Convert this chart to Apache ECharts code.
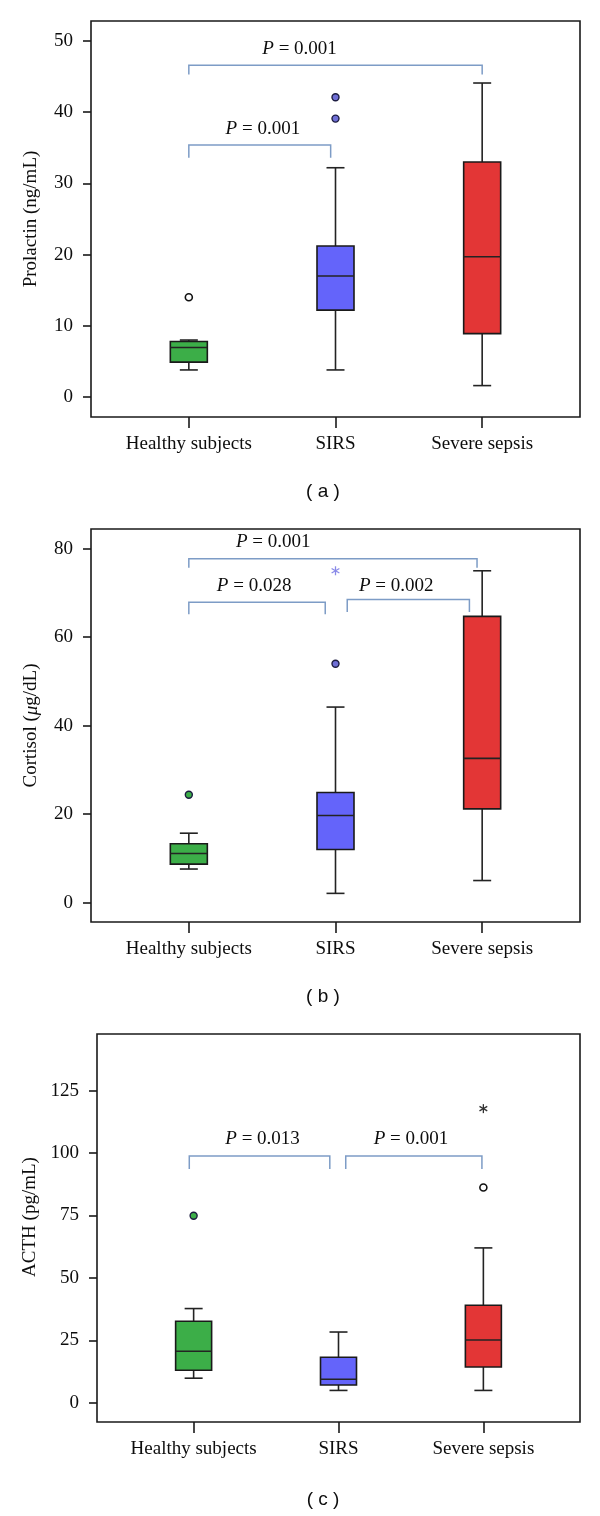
<!DOCTYPE html>
<html>
<head>
<meta charset="utf-8">
<title>Prolactin, cortisol and ACTH by group</title>
<script src="https://cdn.jsdelivr.net/npm/echarts@6.0.0/dist/echarts.min.js"></script>
<style>
html, body { margin: 0; padding: 0; background: #fff; }
#chart { width: 600px; height: 1516px; }
</style>
</head>
<body>
<div id="chart"></div>
<script>
var categories = ['Healthy subjects', 'SIRS', 'Severe sepsis'];

// (a) Prolactin, ng/mL. Boxes: [group, min, Q1, median, Q3, max]
var prolactinBoxes = [
    [0, 3.8, 4.9, 6.95, 7.8, 8.0],
    [1, 3.8, 12.2, 17.0, 21.2, 32.2],
    [2, 1.6, 8.9, 19.7, 33.0, 44.1]
];
var prolactinOutliers = [[1, 42.1], [1, 39.1]];
var prolactinOpenOutliers = [[0, 14.0]];
var prolactinExtremes = [];
var prolactinTicks = [0, 10, 20, 30, 40, 50];
// brackets: [from, to, bar level, foot level]
var prolactinBrackets = [[0, 2, 46.6, 45.3], [0, 0.967, 35.4, 33.6]];
var prolactinP = [[0.755, 48.9, '0.001'], [0.505, 37.6, '0.001']];

// (b) Cortisol, ug/dL
var cortisolBoxes = [
    [0, 7.6, 8.7, 11.1, 13.3, 15.7],
    [1, 2.1, 12.0, 19.7, 24.9, 44.2],
    [2, 5.0, 21.2, 32.6, 64.7, 75.0]
];
var cortisolOutliers = [[0, 24.4], [1, 54.0]];
var cortisolOpenOutliers = [];
var cortisolExtremes = [[1, 75.0]];
var cortisolTicks = [0, 20, 40, 60, 80];
var cortisolBrackets = [[0, 1.965, 77.7, 75.7], [0, 0.93, 67.9, 65.2], [1.08, 1.913, 68.5, 65.7]];
var cortisolP = [[0.575, 81.4, '0.001'], [0.445, 71.6, '0.028'], [1.414, 71.6, '0.002']];

// (c) ACTH, pg/mL
var acthBoxes = [
    [0, 9.8, 13.0, 20.6, 32.6, 37.7],
    [1, 4.9, 7.1, 9.4, 18.2, 28.3],
    [2, 4.9, 14.3, 25.1, 39.0, 62.0]
];
var acthOutliers = [[0, 74.9]];
var acthOpenOutliers = [[2, 86.2]];
var acthExtremes = [[2, 117.8]];
var acthTicks = [0, 25, 50, 75, 100, 125];
var acthBrackets = [[-0.03, 0.94, 98.8, 93.6], [1.05, 1.99, 98.8, 93.6]];
var acthP = [[0.476, 105.6, '0.013'], [1.5, 105.6, '0.001']];

var groupColors = ['#3cae48', '#6464fa', '#e33636'];
var outlierColors = ['#3cae48', '#6f6fd6', '#e33636'];
var serif = 'Liberation Serif';
var ink = '#0d0d0d';

var panels = [
    {
        grid: {left: 91, top: 21, width: 489, height: 396},
        yMin: -2.81, yMax: 52.81, ticks: prolactinTicks,
        name: 'Prolactin (ng/mL)', nameGap: 50, namePad: 0, boxWidth: 37,
        boxes: prolactinBoxes, outliers: prolactinOutliers, open: prolactinOpenOutliers,
        extremes: prolactinExtremes, extremeColor: '#333',
        brackets: prolactinBrackets, pLabels: prolactinP,
        caption: '( a )', captionY: 492
    },
    {
        grid: {left: 91, top: 529, width: 489, height: 393},
        yMin: -4.37, yMax: 84.44, ticks: cortisolTicks,
        name: 'Cortisol ({i|\u03bc}g/dL)', nameGap: 50, namePad: 0, boxWidth: 37,
        boxes: cortisolBoxes, outliers: cortisolOutliers, open: cortisolOpenOutliers,
        extremes: cortisolExtremes, extremeColor: '#8a8ae8',
        brackets: cortisolBrackets, pLabels: cortisolP,
        caption: '( b )', captionY: 997
    },
    {
        grid: {left: 97, top: 1034, width: 483, height: 388},
        yMin: -7.75, yMax: 147.7, ticks: acthTicks,
        name: 'ACTH (pg/mL)', nameGap: 56, namePad: 22, boxWidth: 36,
        boxes: acthBoxes, outliers: acthOutliers, open: acthOpenOutliers,
        extremes: acthExtremes, extremeColor: '#333',
        brackets: acthBrackets, pLabels: acthP,
        caption: '( c )', captionY: 1500
    }
];

function boxRenderer(boxWidth) {
    return function (params, api) {
        var g = api.value(0);
        var lo = api.coord([g, api.value(1)]);
        var q1 = api.coord([g, api.value(2)]);
        var md = api.coord([g, api.value(3)]);
        var q3 = api.coord([g, api.value(4)]);
        var hi = api.coord([g, api.value(5)]);
        var cx = lo[0];
        var half = boxWidth / 2, cap = 9;
        var ln = {stroke: '#232323', lineWidth: 1.6};
        return {
            type: 'group',
            children: [
                {type: 'line', shape: {x1: cx, y1: q3[1], x2: cx, y2: hi[1]}, style: ln},
                {type: 'line', shape: {x1: cx, y1: q1[1], x2: cx, y2: lo[1]}, style: ln},
                {type: 'line', shape: {x1: cx - cap, y1: hi[1], x2: cx + cap, y2: hi[1]}, style: ln},
                {type: 'line', shape: {x1: cx - cap, y1: lo[1], x2: cx + cap, y2: lo[1]}, style: ln},
                {type: 'rect', shape: {x: cx - half, y: q3[1], width: boxWidth, height: q1[1] - q3[1]},
                    style: {fill: groupColors[g], stroke: '#1a1a1a', lineWidth: 1.6}},
                {type: 'line', shape: {x1: cx - half, y1: md[1], x2: cx + half, y2: md[1]}, style: ln}
            ]
        };
    };
}

function renderBracket(params, api) {
    var a = api.coord([api.value(0), api.value(3)]);
    var b = api.coord([api.value(0), api.value(2)]);
    var c = api.coord([api.value(1), api.value(2)]);
    var d = api.coord([api.value(1), api.value(3)]);
    return {
        type: 'polyline',
        shape: {points: [a, b, c, d]},
        style: {stroke: '#7d9cc6', lineWidth: 1.5, fill: null}
    };
}

function pRenderer(list) {
    return function (params, api) {
        var pt = api.coord([api.value(0), api.value(1)]);
        return {
            type: 'text',
            x: pt[0], y: pt[1],
            style: {
                text: '{i|P} = ' + list[params.dataIndex][2],
                fontFamily: serif, fontSize: 19, fill: ink,
                align: 'center', verticalAlign: 'middle',
                rich: {i: {fontFamily: serif, fontSize: 19, fontStyle: 'italic', fill: ink}}
            }
        };
    };
}

function extremeRenderer(color) {
    return function (params, api) {
        var pt = api.coord([api.value(0), api.value(1)]);
        var r = 4.5, kids = [];
        for (var k = 0; k < 3; k++) {
            var ang = Math.PI / 2 + k * Math.PI / 3;
            var dx = r * Math.cos(ang), dy = r * Math.sin(ang);
            kids.push({type: 'line', shape: {x1: pt[0] - dx, y1: pt[1] - dy, x2: pt[0] + dx, y2: pt[1] + dy},
                style: {stroke: color, lineWidth: 1.3}});
        }
        return {type: 'group', children: kids};
    };
}

var option = {
    animation: false,
    backgroundColor: '#fff',
    grid: [], xAxis: [], yAxis: [], series: [], graphic: []
};

panels.forEach(function (p, i) {
    var grid = Object.assign({show: true, borderColor: '#1a1a1a', borderWidth: 1.6, backgroundColor: '#fff'}, p.grid);
    option.grid.push(grid);
    option.xAxis.push({
        gridIndex: i, type: 'value', min: -0.667, max: 2.667, position: 'bottom',
        axisLine: {show: false, onZero: false},
        splitLine: {show: false},
        axisTick: {show: true, length: 11, customValues: [0, 1, 2], lineStyle: {color: '#1a1a1a', width: 1.6}},
        axisLabel: {
            customValues: [0, 1, 2], margin: 18,
            fontFamily: serif, fontSize: 19, color: ink,
            formatter: function (v) { return categories[Math.round(v)]; }
        }
    });
    option.yAxis.push({
        gridIndex: i, type: 'value', min: p.yMin, max: p.yMax,
        name: p.name, nameLocation: 'middle', nameGap: p.nameGap,
        nameTextStyle: {
            fontFamily: serif, fontSize: 19, color: ink, padding: [0, 0, 0, p.namePad],
            rich: {i: {fontFamily: serif, fontSize: 19, fontStyle: 'italic', color: ink}}
        },
        axisLine: {show: false, onZero: false},
        splitLine: {show: false},
        axisTick: {show: true, length: 8, customValues: p.ticks, lineStyle: {color: '#1a1a1a', width: 1.6}},
        axisLabel: {customValues: p.ticks, margin: 18, fontFamily: serif, fontSize: 19, color: ink}
    });
    option.series.push({
        type: 'custom', xAxisIndex: i, yAxisIndex: i,
        renderItem: renderBracket, encode: {x: [0, 1], y: [2, 3]},
        data: p.brackets, silent: true
    });
    option.series.push({
        type: 'custom', xAxisIndex: i, yAxisIndex: i,
        renderItem: pRenderer(p.pLabels), encode: {x: 0, y: 1},
        data: p.pLabels.map(function (d) { return [d[0], d[1]]; }), silent: true
    });
    option.series.push({
        type: 'custom', xAxisIndex: i, yAxisIndex: i,
        renderItem: boxRenderer(p.boxWidth), encode: {x: 0, y: [1, 2, 3, 4, 5]},
        data: p.boxes
    });
    option.series.push({
        type: 'scatter', xAxisIndex: i, yAxisIndex: i,
        symbol: 'circle', symbolSize: 7, data: p.outliers,
        itemStyle: {
            color: function (d) { return outlierColors[Math.round(d.value[0])]; },
            borderColor: '#1c1c40', borderWidth: 1.4, opacity: 1
        }
    });
    option.series.push({
        type: 'scatter', xAxisIndex: i, yAxisIndex: i,
        symbol: 'circle', symbolSize: 7, data: p.open,
        itemStyle: {color: '#fff', borderColor: '#111', borderWidth: 1.6, opacity: 1}
    });
    option.series.push({
        type: 'custom', xAxisIndex: i, yAxisIndex: i,
        renderItem: extremeRenderer(p.extremeColor), encode: {x: 0, y: 1},
        data: p.extremes, silent: true
    });
    option.graphic.push({
        type: 'text', x: 323, y: p.captionY,
        style: {
            text: p.caption, fontFamily: 'Liberation Sans', fontSize: 19, fill: ink,
            align: 'center', verticalAlign: 'middle'
        }
    });
});

var myChart = echarts.init(document.getElementById('chart'));
myChart.setOption(option);
window.onresize = function () {
    myChart.resize();
};
</script>
</body>
</html>
